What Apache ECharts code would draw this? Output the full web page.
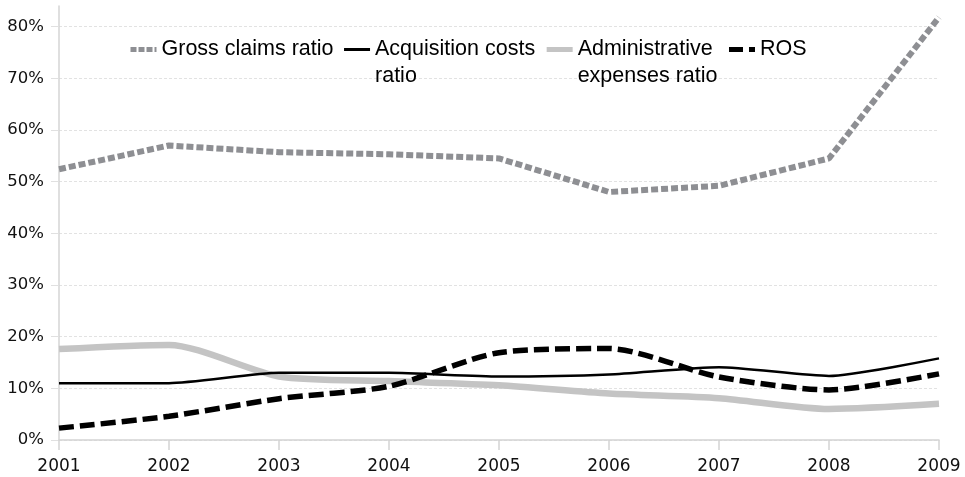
<!DOCTYPE html>
<html>
<head>
<meta charset="utf-8">
<script src="https://cdn.jsdelivr.net/npm/echarts@6/dist/echarts.min.js"></script>
<style>
  html, body { margin: 0; padding: 0; background: #fff; }
  #chart { width: 965px; height: 477px; }
</style>
</head>
<body>
<div id="chart"></div>
<script>
// Years on the category axis
const years = ['2001', '2002', '2003', '2004', '2005', '2006', '2007', '2008', '2009'];

// Ratios in percent
const grossClaims = [52.4, 57.0, 55.7, 55.3, 54.5, 48.0, 49.2, 54.5, 81.8];
const acquisitionCosts = [11.0, 11.0, 13.0, 13.0, 12.3, 12.7, 14.1, 12.4, 15.8];
const adminExpenses = [17.6, 18.4, 12.3, 11.4, 10.6, 9.0, 8.1, 6.0, 7.0];
const ros = [2.3, 4.6, 8.0, 10.4, 16.9, 17.7, 12.2, 9.7, 12.8];

// Series names (the two long ones wrap onto a second line)
const names = ['Gross claims ratio', 'Acquisition costs\nratio', 'Administrative\nexpenses ratio', 'ROS'];

const chart = echarts.init(document.getElementById('chart'), null, { renderer: 'canvas' });

chart.setOption({
  animation: false,
  backgroundColor: '#ffffff',
  grid: { left: 59, right: 26, top: 6, bottom: 37, containLabel: false },
  legend: {
    left: 123,
    top: 4,
    itemWidth: 26,
    itemHeight: 8,
    itemGap: 9,
    itemStyle: { opacity: 0 },
    // a leading blank line keeps the icon level with the first line of a wrapped name
    formatter: name => (name.indexOf('\n') >= 0 ? '\n' + name : name),
    textStyle: { fontFamily: 'Liberation Sans, Arial, sans-serif', fontSize: 21.5, color: '#000', lineHeight: 27 },
    data: [
      { name: names[0], lineStyle: { width: 5, type: [6, 2] } },
      { name: names[1], lineStyle: { width: 3 } },
      { name: names[2], lineStyle: { width: 5 } },
      { name: names[3], lineStyle: { width: 5, type: [14, 6] } }
    ]
  },
  xAxis: {
    type: 'category',
    data: years,
    boundaryGap: false,
    axisLine: { lineStyle: { color: '#d4d4d4', width: 1.5 } },
    axisTick: { length: 10, lineStyle: { color: '#d4d4d4', width: 1.5 } },
    axisLabel: { margin: 18, fontFamily: 'DejaVu Sans, sans-serif', fontSize: 17, color: '#111' },
    splitLine: { show: false }
  },
  yAxis: {
    type: 'value',
    min: 0,
    max: 84,
    interval: 10,
    axisLine: { show: true, lineStyle: { color: '#d4d4d4', width: 1.5 } },
    axisTick: { show: true, length: 8, lineStyle: { color: '#e0e0e0' } },
    axisLabel: {
      margin: 15, fontFamily: 'DejaVu Sans, sans-serif', fontSize: 16.5, color: '#111',
      showMaxLabel: false,
      formatter: v => (v % 10 === 0 ? v + '%' : '')
    },
    splitLine: { show: true, showMaxLine: false, lineStyle: { color: '#e2e2e2', type: [3, 2], width: 1 } }
  },
  series: [
    {
      name: names[0], type: 'line', data: grossClaims, symbol: 'none', z: 3,
      lineStyle: { color: '#8e8f93', width: 6, type: [7, 3], cap: 'butt' },
      itemStyle: { color: '#8e8f93' }
    },
    {
      name: names[1], type: 'line', data: acquisitionCosts, symbol: 'none', smooth: 0.2, z: 4,
      lineStyle: { color: '#000', width: 2.5 },
      itemStyle: { color: '#000' }
    },
    {
      name: names[2], type: 'line', data: adminExpenses, symbol: 'none', smooth: 0.25, z: 2,
      lineStyle: { color: '#c4c4c4', width: 6.5 },
      itemStyle: { color: '#c4c4c4' }
    },
    {
      name: names[3], type: 'line', data: ros, symbol: 'none', smooth: 0.25, z: 5,
      lineStyle: { color: '#000', width: 5.5, type: [15, 6], cap: 'butt' },
      itemStyle: { color: '#000' }
    }
  ]
});
</script>
</body>
</html>
